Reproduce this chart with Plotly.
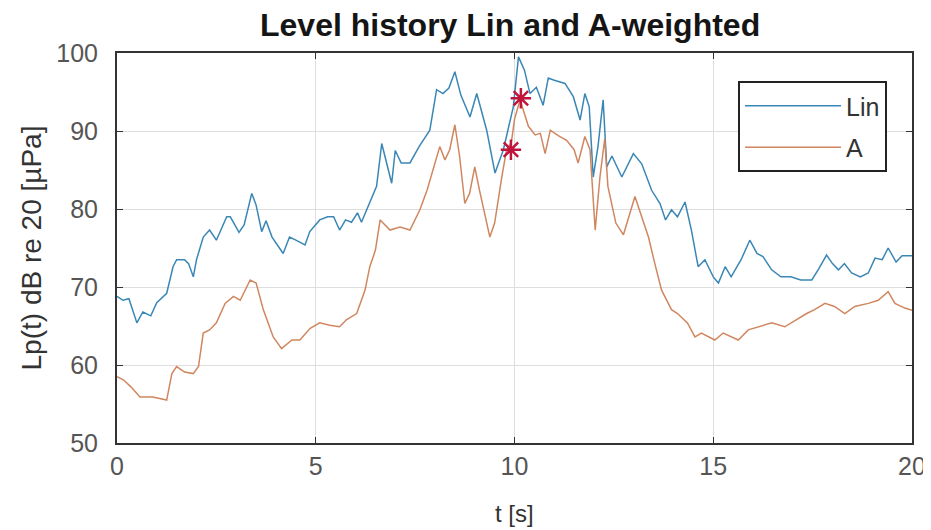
import plotly.graph_objects as go

# ---- data ----
t_lin = [0, 0.15, 0.3, 0.5, 0.65, 0.85, 1.0, 1.25, 1.41, 1.5, 1.7, 1.8, 1.92, 2.0, 2.17, 2.33, 2.5,
         2.76, 2.85, 3.07, 3.2, 3.39, 3.5, 3.64, 3.75, 3.9, 4.18, 4.34, 4.5, 4.73, 4.85, 5.1, 5.3,
         5.45, 5.6, 5.75, 5.9, 6.05, 6.15, 6.28, 6.53, 6.66, 6.91, 7.0, 7.15, 7.37, 7.6, 7.87, 8.04,
         8.2, 8.35, 8.5, 8.65, 8.88, 9.05, 9.3, 9.51, 9.72, 9.97, 10.1, 10.25, 10.39, 10.55, 10.72,
         10.85, 11.0, 11.27, 11.48, 11.65, 11.77, 11.88, 11.98, 12.1, 12.23, 12.32, 12.45, 12.7,
         12.99, 13.2, 13.45, 13.66, 13.8, 13.95, 14.1, 14.29, 14.45, 14.62, 14.79, 15.0, 15.13,
         15.3, 15.45, 15.7, 15.92, 16.1, 16.25, 16.47, 16.7, 16.95, 17.2, 17.48, 17.65, 17.85, 18.0,
         18.15, 18.3, 18.48, 18.7, 18.9, 19.07, 19.25, 19.4, 19.6, 19.75, 20.0]
lin = [68.8, 68.3, 68.5, 65.4, 66.8, 66.3, 68.0, 69.2, 72.6, 73.5, 73.5, 73.0, 71.3, 73.5, 76.4,
       77.3, 76.0, 79.0, 79.0, 77.0, 78.0, 82.0, 80.5, 77.1, 78.5, 76.4, 74.3, 76.4, 76.0, 75.4,
       77.1, 78.6, 79.0, 79.0, 77.3, 78.6, 78.3, 79.5, 78.3, 79.9, 82.9, 88.4, 83.3, 87.5, 85.9,
       85.9, 88.0, 90.1, 95.3, 94.8, 95.5, 97.6, 94.6, 91.8, 94.8, 90.1, 84.6, 87.6, 93.1, 99.5,
       97.8, 94.8, 95.6, 93.3, 96.8, 96.5, 96.1, 94.4, 91.4, 94.8, 93.1, 84.1, 88.0, 94.0, 85.4,
       86.8, 84.1, 87.1, 85.8, 82.4, 80.7, 78.6, 79.9, 79.0, 80.9, 77.3, 72.6, 73.5, 71.3, 70.5,
       72.6, 71.3, 73.5, 76.0, 74.3, 73.9, 72.2, 71.3, 71.3, 70.9, 70.9, 72.3, 74.1, 73.0, 72.2,
       73.0, 71.8, 71.3, 71.8, 73.7, 73.5, 75.0, 73.2, 74.0, 74.0]

t_a = [0, 0.16, 0.35, 0.58, 0.9, 1.25, 1.38, 1.5, 1.7, 1.92, 2.05, 2.17, 2.33, 2.5, 2.72, 2.93,
       3.1, 3.35, 3.5, 3.68, 3.93, 4.14, 4.4, 4.6, 4.86, 5.1, 5.35, 5.6, 5.77, 6.03, 6.24, 6.36,
       6.5, 6.62, 6.87, 7.12, 7.37, 7.62, 7.8, 7.99, 8.12, 8.25, 8.37, 8.5, 8.62, 8.75, 8.87, 9.0,
       9.12, 9.38, 9.5, 9.68, 9.8, 9.92, 10.0, 10.14, 10.35, 10.52, 10.65, 10.77, 10.9, 11.1,
       11.31, 11.5, 11.6, 11.77, 11.9, 12.03, 12.15, 12.27, 12.35, 12.55, 12.74, 12.9, 13.03,
       13.2, 13.37, 13.53, 13.7, 13.95, 14.1, 14.35, 14.54, 14.7, 15.04, 15.25, 15.45, 15.63,
       15.88, 16.13, 16.47, 16.8, 17.09, 17.35, 17.55, 17.81, 18.05, 18.31, 18.56, 18.9, 19.15,
       19.4, 19.57, 19.82, 20.0]
a_w = [58.5, 58.1, 57.2, 55.9, 55.9, 55.5, 58.9, 59.8, 59.1, 58.9, 59.8, 64.1, 64.5, 65.4, 67.9,
       68.8, 68.3, 70.9, 70.5, 67.1, 63.6, 62.1, 63.2, 63.2, 64.7, 65.4, 65.1, 64.9, 65.8, 66.6,
       69.6, 72.6, 74.7, 78.6, 77.3, 77.7, 77.3, 79.9, 82.4, 85.9, 88.0, 86.3, 87.6, 90.8, 86.7,
       80.7, 82.0, 85.4, 82.4, 76.4, 78.2, 84.1, 87.6, 88.5, 91.5, 94.0, 90.6, 89.5, 89.7, 87.1,
       90.1, 89.4, 88.8, 87.6, 85.9, 89.3, 87.6, 77.3, 84.1, 89.0, 82.9, 78.2, 76.7, 79.4, 81.6,
       79.0, 76.4, 73.0, 69.6, 67.1, 66.6, 65.4, 63.6, 64.1, 63.2, 64.1, 63.6, 63.2, 64.5, 64.9,
       65.4, 64.9, 65.8, 66.6, 67.1, 67.9, 67.5, 66.6, 67.5, 67.9, 68.3, 69.4, 67.9, 67.3, 67.0]

star_t = [9.91, 10.16]
star_v = [87.6, 94.2]

x_ticks = [0, 5, 10, 15, 20]
y_ticks = [50, 60, 70, 80, 90, 100]

FONT = "Liberation Sans, Arial, sans-serif"

fig = go.Figure()
fig.add_trace(go.Scatter(x=t_lin, y=lin, mode="lines", name="Lin",
                         line=dict(color="#3a87b6", width=1.5), legendgroup="g1"))
fig.add_trace(go.Scatter(x=t_a, y=a_w, mode="lines", name="A",
                         line=dict(color="#d08760", width=1.5), legendgroup="g2"))
fig.add_trace(go.Scatter(x=star_t, y=star_v, mode="markers", showlegend=False,
                         marker=dict(symbol="asterisk-open", size=17, color="#c0143c",
                                     line=dict(color="#c0143c", width=2.5))))

axis_common = dict(showgrid=True, gridcolor="#dedede", gridwidth=1,
                   showline=True, linecolor="#333333", linewidth=2, mirror="ticks",
                   ticks="inside", ticklen=6, tickcolor="#333333", zeroline=False,
                   automargin=False,
                   tickfont=dict(family=FONT, size=25, color="#555555"))

fig.update_layout(
    width=923, height=522,
    margin=dict(l=109, r=19, t=45, b=87),
    paper_bgcolor="white", plot_bgcolor="white",
    title=dict(text="<b>Level history Lin and A-weighted</b>", x=0.544, xanchor="center",
               y=0.967, yanchor="middle",
               font=dict(family=FONT, size=32, color="#151515")),
    xaxis=dict(range=[0, 20], tickvals=x_ticks, ticktext=[str(v) for v in x_ticks],
               **axis_common),
    yaxis=dict(range=[50, 100], tickvals=y_ticks, ticktext=[str(v) for v in y_ticks],
               ticklabelstandoff=12,
               title=dict(text="Lp(t) dB re 20 [µPa]",
                          font=dict(family=FONT, size=28, color="#333333"), standoff=6),
               **axis_common),
    legend=dict(x=0.9686, y=0.928, xanchor="right", yanchor="top",
                bgcolor="white", bordercolor="#222222", borderwidth=2,
                font=dict(family=FONT, size=25, color="#333333"),
                tracegroupgap=6, itemwidth=96),
    showlegend=True,
)

# x-axis title, sitting at the very bottom edge as in the reference
fig.add_annotation(text="t [s]", xref="paper", yref="paper", x=0.5, y=-0.2205,
                   xanchor="center", yanchor="bottom", showarrow=False,
                   font=dict(family=FONT, size=24, color="#333333"))

fig.write_html("out.html")
